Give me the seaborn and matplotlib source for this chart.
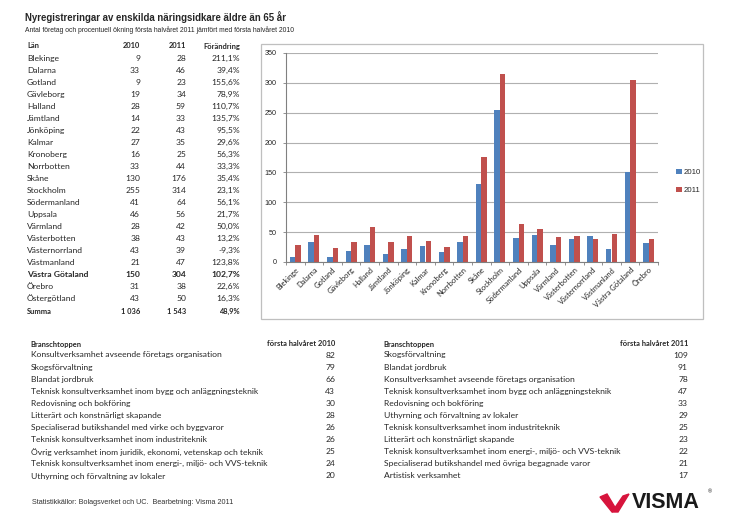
import numpy as np
import pandas as pd
import matplotlib
matplotlib.use("Agg")
import matplotlib.pyplot as plt
import seaborn as sns
from matplotlib.patches import Rectangle, Polygon

lan = ['Blekinge', 'Dalarna', 'Gotland', 'Gävleborg', 'Halland', 'Jämtland', 'Jönköping',
       'Kalmar', 'Kronoberg', 'Norrbotten', 'Skåne', 'Stockholm', 'Södermanland', 'Uppsala',
       'Värmland', 'Västerbotten', 'Västernorrland', 'Västmanland', 'Västra Götaland',
       'Örebro', 'Östergötland']
antal_2010 = [9, 33, 9, 19, 28, 14, 22, 27, 16, 33, 130, 255, 41, 46, 28, 38, 43, 21, 150, 31, 43]
antal_2011 = [28, 46, 23, 34, 59, 33, 43, 35, 25, 44, 176, 314, 64, 56, 42, 43, 39, 47, 304, 38, 50]
forandring = [211.1, 39.4, 155.6, 78.9, 110.7, 135.7, 95.5, 29.6, 56.3, 33.3, 35.4, 23.1,
              56.1, 21.7, 50.0, 13.2, -9.3, 123.8, 102.7, 22.6, 16.3]
summa = ['1 036', '1 543', '48,9%']
chart_lan = lan[:20]  # Östergötland is not in the chart

bransch_2010 = ['Konsultverksamhet avseende företags organisation', 'Skogsförvaltning',
                'Blandat jordbruk', 'Teknisk konsultverksamhet inom bygg och anläggningsteknik',
                'Redovisning och bokföring', 'Litterärt och konstnärligt skapande',
                'Specialiserad butikshandel med virke och byggvaror',
                'Teknisk konsultverksamhet inom industriteknik',
                'Övrig verksamhet inom juridik, ekonomi, vetenskap och teknik',
                'Teknisk konsultverksamhet inom energi-, miljö- och VVS-teknik',
                'Uthyrning och förvaltning av lokaler']
bransch_2010_antal = [82, 79, 66, 43, 30, 28, 26, 26, 25, 24, 20]
bransch_2011 = ['Skogsförvaltning', 'Blandat jordbruk', 'Konsultverksamhet avseende företags organisation',
                'Teknisk konsultverksamhet inom bygg och anläggningsteknik', 'Redovisning och bokföring',
                'Uthyrning och förvaltning av lokaler', 'Teknisk konsultverksamhet inom industriteknik',
                'Litterärt och konstnärligt skapande',
                'Teknisk konsultverksamhet inom energi-, miljö- och VVS-teknik',
                'Specialiserad butikshandel med övriga begagnade varor', 'Artistisk verksamhet']
bransch_2011_antal = [109, 91, 78, 47, 33, 29, 25, 23, 22, 21, 17]

W, H = 746, 527
BLUE, RED = '#4F81BD', '#C0504D'
TXT = 'Lato'
FS = 6.1      # table body
FSH = 5.4     # table headers

def fx(x):
    return x / W

def fy(y):
    return 1 - y / H

fig = plt.figure(figsize=(W / 100, H / 100), dpi=100)
sns.set_style('white')
plt.rcParams['font.family'] = ['Liberation Sans', 'DejaVu Sans']

# title
fig.text(fx(25), fy(17), 'Nyregistreringar av enskilda näringsidkare äldre än 65 år',
         fontsize=6.9, fontweight='bold', va='center')
fig.text(fx(25), fy(30), 'Antal företag och procentuell ökning första halvåret 2011 jämfört med första halvåret 2010',
         fontsize=4.9, va='center')

# county table
top, step = 58.3, 12.0
fig.text(fx(27), fy(46), 'Län', fontsize=FSH, fontweight='bold', family=TXT, va='center')
for x, h in zip([140, 186, 240], ['2010', '2011', 'Förändring']):
    fig.text(fx(x), fy(46), h, fontsize=FSH, fontweight='bold', family=TXT, va='center', ha='right')
for i, name in enumerate(lan):
    y = fy(top + i * step)
    w = 'bold' if name == 'Västra Götaland' else 'normal'
    pct = f'{forandring[i]:.1f}%'.replace('.', ',')
    fig.text(fx(27), y, name, fontsize=FS, family=TXT, va='center', fontweight=w)
    fig.text(fx(140), y, str(antal_2010[i]), fontsize=FS, family=TXT, va='center', ha='right', fontweight=w)
    fig.text(fx(186), y, str(antal_2011[i]), fontsize=FS, family=TXT, va='center', ha='right', fontweight=w)
    fig.text(fx(240), y, pct, fontsize=FS, family=TXT, va='center', ha='right', fontweight=w)
fig.text(fx(27), fy(311.5), 'Summa', fontsize=FSH, fontweight='bold', family=TXT, va='center')
for x, s in zip([140, 186, 240], summa):
    fig.text(fx(x), fy(311.5), s, fontsize=FSH, fontweight='bold', family=TXT, va='center', ha='right')

# chart frame
fig.add_artist(Rectangle((fx(261), fy(319)), (703 - 261) / W, (319 - 44) / H,
                         transform=fig.transFigure, fill=False, ec='#BFBFBF', lw=0.9))

df = pd.DataFrame({
    'Län': chart_lan * 2,
    'Antal': antal_2010[:20] + antal_2011[:20],
    'År': ['2010'] * 20 + ['2011'] * 20,
})

ax = fig.add_axes([fx(286), fy(262), (658 - 286) / W, (262 - 53) / H])
sns.barplot(data=df, x='Län', y='Antal', hue='År', palette=[BLUE, RED], width=0.6,
            saturation=1, ax=ax, linewidth=0)
ax.set_ylim(0, 350)
ax.set_yticks(range(0, 351, 50))
ax.set_xlim(-0.5, 19.5)
ax.grid(axis='y', color='#B0B0B0', lw=0.8)
ax.set_axisbelow(True)
for s in ['top', 'right']:
    ax.spines[s].set_visible(False)
for s in ['left', 'bottom']:
    ax.spines[s].set_color('#808080')
    ax.spines[s].set_linewidth(0.8)
ax.set_xlabel('')
ax.set_ylabel('')
ax.tick_params(axis='y', labelsize=5.2, length=2.5, width=0.6, color='#808080', left=True, pad=4)
ax.set_xticks(np.arange(20))
ax.set_xticklabels(chart_lan, rotation=45, ha='right', rotation_mode='anchor', fontsize=5.4,
                   family=TXT)
ax.tick_params(axis='x', length=0, pad=3)
ax.set_xticks(np.arange(-0.5, 20, 1), minor=True)
ax.tick_params(axis='x', which='minor', length=2.5, width=0.6, color='#808080', bottom=True)
leg = ax.legend(loc='center left', bbox_to_anchor=(1.03, 0.385), frameon=False, fontsize=5.6,
                handlelength=0.7, handleheight=0.7, handletextpad=0.3, labelspacing=1.4)

# industry tables
btop, bstep = 355.0, 12.1
for x0, x1, head, names, vals in [(31, 335, 'första halvåret 2010', bransch_2010, bransch_2010_antal),
                                  (384, 688, 'första halvåret 2011', bransch_2011, bransch_2011_antal)]:
    fig.text(fx(x0 - 1), fy(344), 'Branschtoppen', fontsize=FSH, fontweight='bold', family=TXT, va='center')
    fig.text(fx(x1), fy(344), head, fontsize=FSH, fontweight='bold', family=TXT, va='center', ha='right')
    for i, (n, v) in enumerate(zip(names, vals)):
        y = fy(btop + i * bstep)
        fig.text(fx(x0), y, n, fontsize=FS, family=TXT, va='center')
        fig.text(fx(x1), y, str(v), fontsize=FS, family=TXT, va='center', ha='right')

# footer
fig.text(fx(32), fy(502), 'Statistikkällor: Bolagsverket och UC.  Bearbetning: Visma 2011',
         fontsize=5.2, va='center', color='#333333')

# Visma logo
logo_red = '#D7143C'
fig.add_artist(Polygon([(fx(600), fy(497)), (fx(607), fy(494)), (fx(616), fy(509)), (fx(612), fy(512))],
                       closed=True, transform=fig.transFigure, color=logo_red))
fig.add_artist(Polygon([(fx(612), fy(512)), (fx(623), fy(496)), (fx(629), fy(494)), (fx(618), fy(512))],
                       closed=True, transform=fig.transFigure, color=logo_red))
fig.text(fx(632), fy(503), 'VISMA', fontsize=15.5, fontweight='bold', va='center', color='#1a1a1a')
fig.text(fx(708), fy(492), '®', fontsize=4, va='center', color='#1a1a1a')

fig.savefig('out.png', dpi=100)
